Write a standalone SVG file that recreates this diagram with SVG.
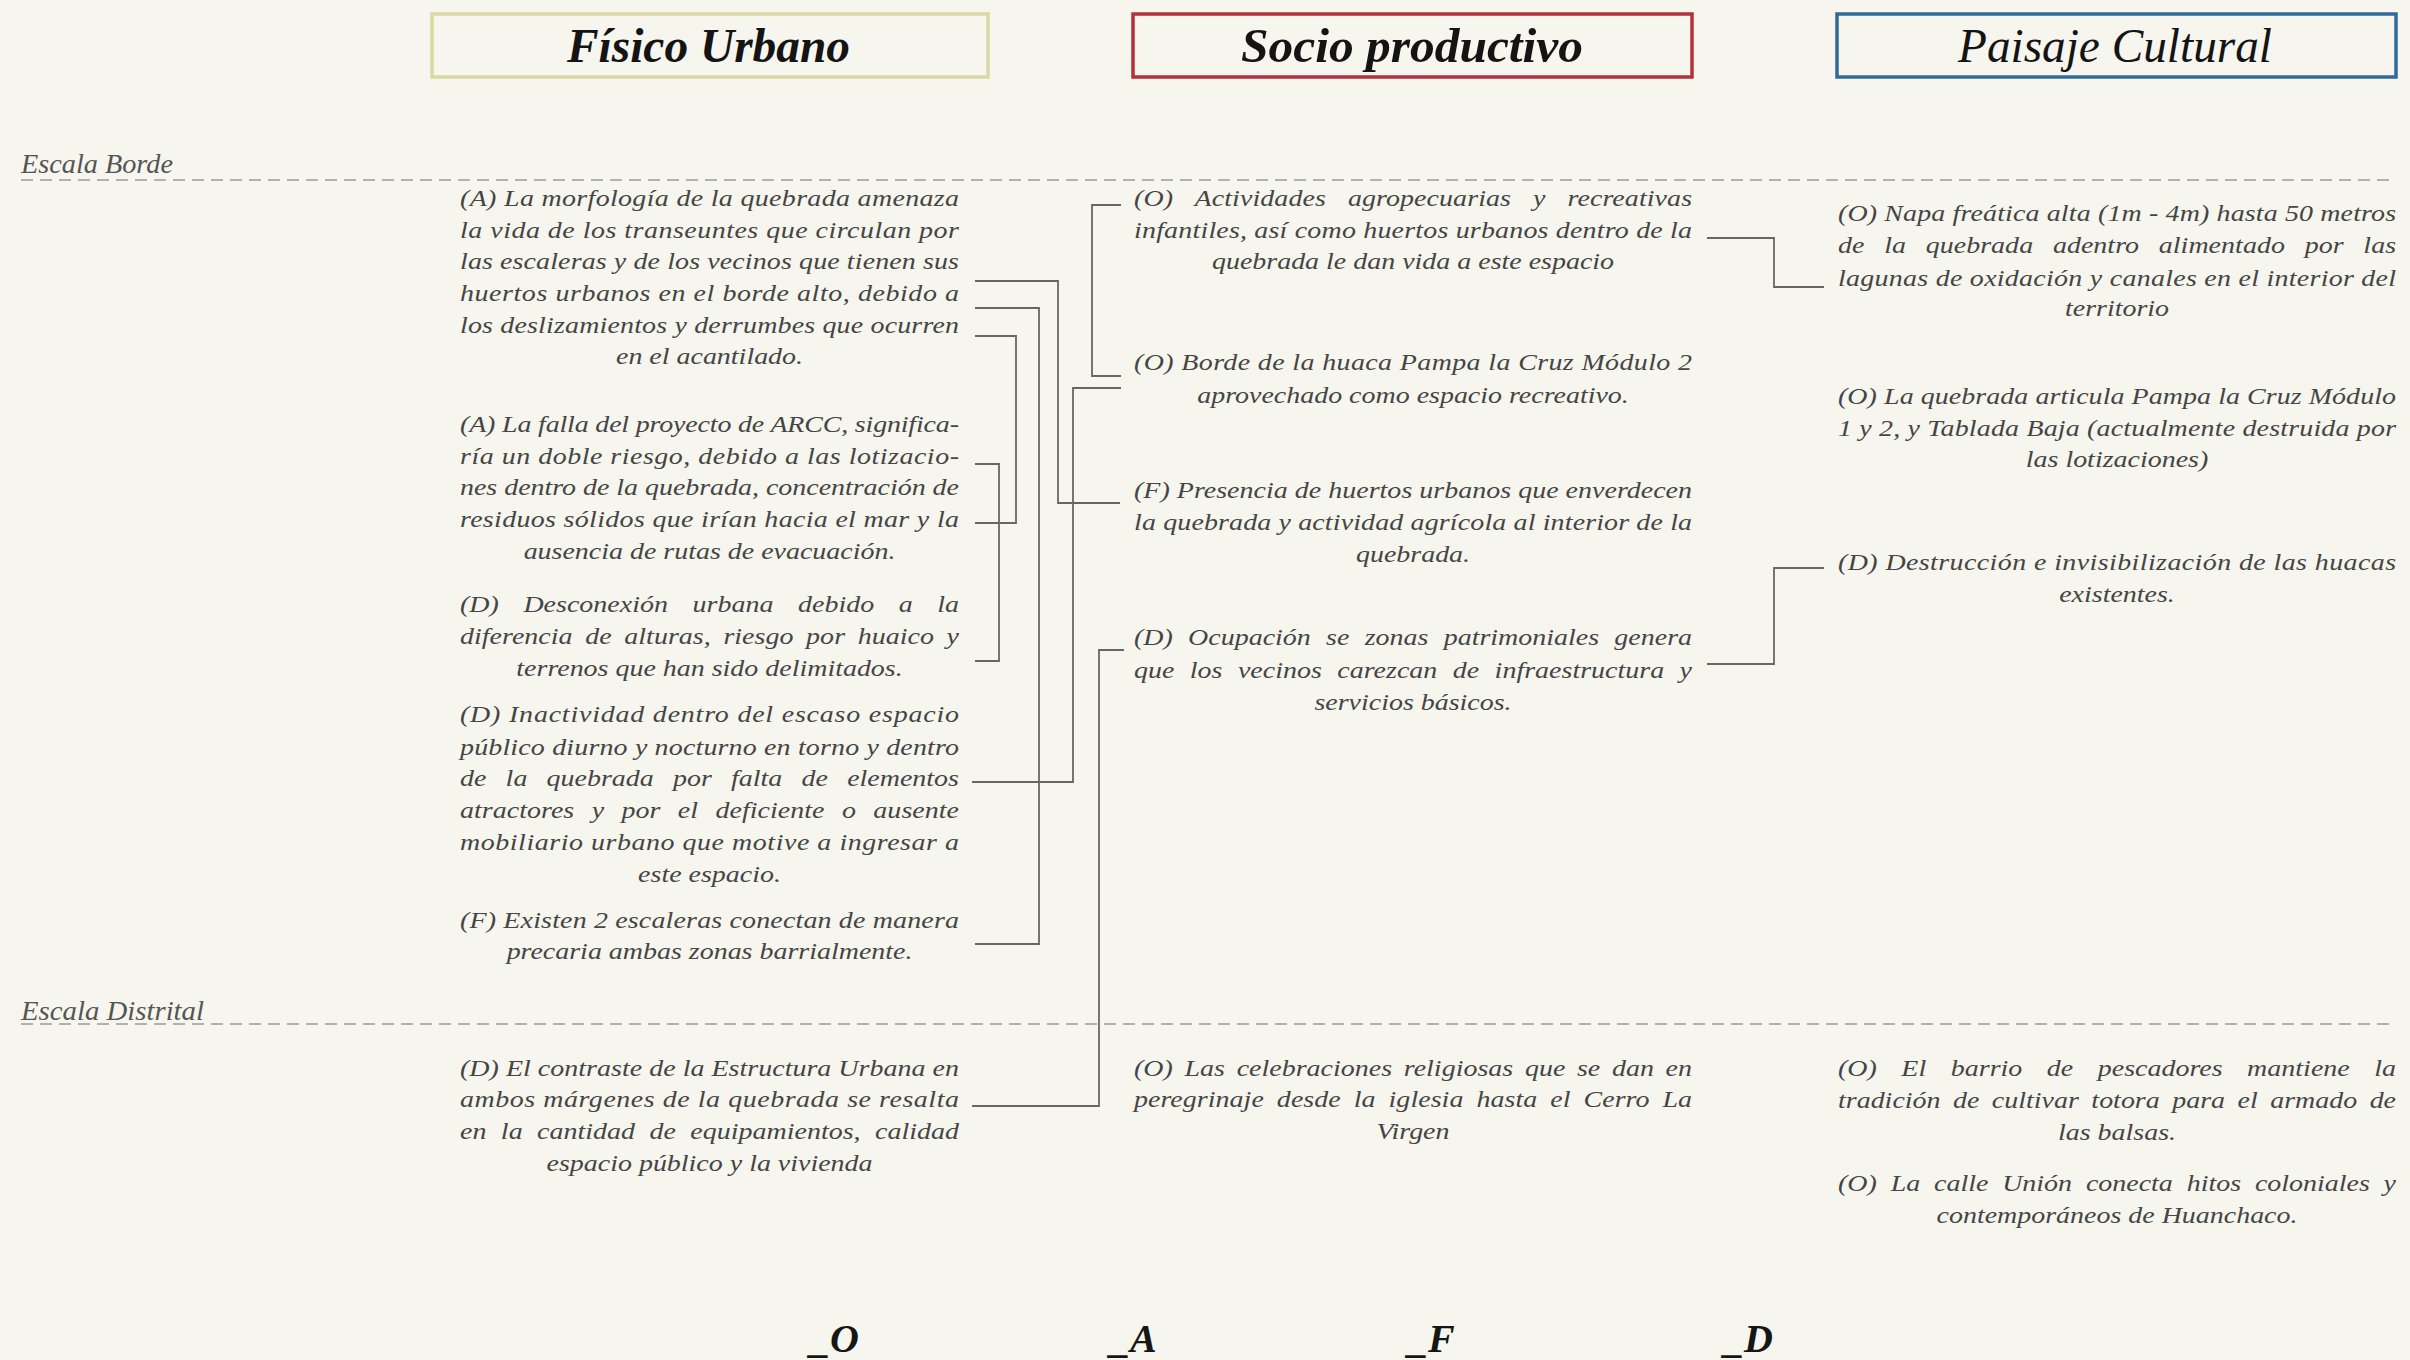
<svg xmlns="http://www.w3.org/2000/svg" width="2410" height="1360" viewBox="0 0 2410 1360">
<defs>
<style>
.bg{fill:#f6f6ee}
.hd{font-family:"Liberation Serif","Times New Roman",serif;font-style:italic;font-weight:bold;font-size:48px;fill:#141414}
.hdr{font-weight:normal}
.box{fill:none;stroke-width:3.5}
.esc{font-family:"Liberation Serif","Times New Roman",serif;font-style:italic;font-size:28px;fill:#555}
.b{font-family:"Liberation Serif","Times New Roman",serif;font-style:italic;font-size:24px;fill:#454545}
.c{text-anchor:middle}
.dash{stroke:#9a9a9a;stroke-width:1.6;stroke-dasharray:12 7;fill:none}
.con{stroke:#666;stroke-width:1.8;fill:none}
.lg{font-family:"Liberation Serif","Times New Roman",serif;font-style:italic;font-weight:bold;font-size:40px;fill:#161616}
</style>
</defs>
<rect class="bg" x="0" y="0" width="2410" height="1360"/>

<g id="header-fisico">
<rect class="box" x="432" y="14" width="556" height="63" stroke="#dad9a4"/>
<text class="hd" x="567" y="62" textLength="283" lengthAdjust="spacingAndGlyphs">Físico Urbano</text>
</g>
<g id="header-socio">
<rect class="box" x="1133" y="14" width="559" height="63" stroke="#b3323a"/>
<text class="hd" x="1241" y="62" textLength="342" lengthAdjust="spacingAndGlyphs">Socio productivo</text>
</g>
<g id="header-paisaje">
<rect class="box" x="1837" y="14" width="559" height="63" stroke="#2f6a98"/>
<text class="hd hdr" x="1958" y="62" textLength="314" lengthAdjust="spacingAndGlyphs">Paisaje Cultural</text>
</g>

<g id="scales">
<text class="esc" x="21" y="173" textLength="152" lengthAdjust="spacingAndGlyphs">Escala Borde</text>
<line class="dash" x1="21" y1="180" x2="2396" y2="180"/>
<text class="esc" x="21" y="1020" textLength="183" lengthAdjust="spacingAndGlyphs">Escala Distrital</text>
<line class="dash" x1="21" y1="1024" x2="2396" y2="1024"/>
</g>

<g id="connectors">
<polyline class="con" points="975,281 1058,281 1058,503 1120,503"/>
<polyline class="con" points="975,308 1039,308 1039,944 975,944"/>
<polyline class="con" points="975,336 1016,336 1016,523 975,523"/>
<polyline class="con" points="975,464 999,464 999,661 975,661"/>
<polyline class="con" points="1121,205 1092,205 1092,376 1121,376"/>
<polyline class="con" points="972,782 1073,782 1073,388 1121,388"/>
<polyline class="con" points="972,1106 1099,1106 1099,650 1124,650"/>
<polyline class="con" points="1707,238 1774,238 1774,287 1824,287"/>
<polyline class="con" points="1707,664 1774,664 1774,568 1824,568"/>
</g>

<!-- Left column: x 460..959 (W=499), scale 1.165 -> 428.3 -->
<g id="n-a1" transform="translate(460 0) scale(1.165 1)">
<text class="b" x="0" y="206" textLength="428.3" lengthAdjust="spacing">(A) La morfología de la quebrada amenaza</text>
<text class="b" x="0" y="238" textLength="428.3" lengthAdjust="spacing">la vida de los transeuntes que circulan por</text>
<text class="b" x="0" y="269" textLength="428.3" lengthAdjust="spacing">las escaleras y de los vecinos que tienen sus</text>
<text class="b" x="0" y="301" textLength="428.3" lengthAdjust="spacing">huertos urbanos en el borde alto, debido a</text>
<text class="b" x="0" y="333" textLength="428.3" lengthAdjust="spacing">los deslizamientos y derrumbes que ocurren</text>
<text class="b c" x="214.2" y="364">en el acantilado.</text>
</g>
<g id="n-a2" transform="translate(460 0) scale(1.165 1)">
<text class="b" x="0" y="432" textLength="428.3" lengthAdjust="spacing">(A) La falla del proyecto de ARCC, significa-</text>
<text class="b" x="0" y="464" textLength="428.3" lengthAdjust="spacing">ría un doble riesgo, debido a las lotizacio-</text>
<text class="b" x="0" y="495" textLength="428.3" lengthAdjust="spacing">nes dentro de la quebrada, concentración de</text>
<text class="b" x="0" y="527" textLength="428.3" lengthAdjust="spacing">residuos sólidos que irían hacia el mar y la</text>
<text class="b c" x="214.2" y="559">ausencia de rutas de evacuación.</text>
</g>
<g id="n-d1" transform="translate(460 0) scale(1.165 1)">
<text class="b" x="0" y="612" textLength="428.3" lengthAdjust="spacing" word-spacing="15">(D) Desconexión urbana debido a la</text>
<text class="b" x="0" y="644" textLength="428.3" lengthAdjust="spacing" word-spacing="4.8">diferencia de alturas, riesgo por huaico y</text>
<text class="b c" x="214.2" y="676">terrenos que han sido delimitados.</text>
</g>
<g id="n-d2" transform="translate(460 0) scale(1.165 1)">
<text class="b" x="0" y="722" textLength="428.3" lengthAdjust="spacing">(D) Inactividad dentro del escaso espacio</text>
<text class="b" x="0" y="755" textLength="428.3" lengthAdjust="spacing">público diurno y nocturno en torno y dentro</text>
<text class="b" x="0" y="786" textLength="428.3" lengthAdjust="spacing" word-spacing="10.5">de la quebrada por falta de elementos</text>
<text class="b" x="0" y="818" textLength="428.3" lengthAdjust="spacing" word-spacing="8.9">atractores y por el deficiente o ausente</text>
<text class="b" x="0" y="850" textLength="428.3" lengthAdjust="spacing">mobiliario urbano que motive a ingresar a</text>
<text class="b c" x="214.2" y="882">este espacio.</text>
</g>
<g id="n-f1" transform="translate(460 0) scale(1.165 1)">
<text class="b" x="0" y="928" textLength="428.3" lengthAdjust="spacing">(F) Existen 2 escaleras conectan de manera</text>
<text class="b c" x="214.2" y="959">precaria ambas zonas barrialmente.</text>
</g>
<g id="n-d3" transform="translate(460 0) scale(1.165 1)">
<text class="b" x="0" y="1076" textLength="428.3" lengthAdjust="spacing">(D) El contraste de la Estructura Urbana en</text>
<text class="b" x="0" y="1107" textLength="428.3" lengthAdjust="spacing">ambos márgenes de la quebrada se resalta</text>
<text class="b" x="0" y="1139" textLength="428.3" lengthAdjust="spacing" word-spacing="6.4">en la cantidad de equipamientos, calidad</text>
<text class="b c" x="214.2" y="1171">espacio público y la vivienda</text>
</g>

<!-- Center column: x 1134..1692 (W=558) -> 479.0 -->
<g id="n-o1" transform="translate(1134 0) scale(1.165 1)">
<text class="b" x="0" y="206" textLength="479" lengthAdjust="spacing" word-spacing="12.8">(O) Actividades agropecuarias y recreativas</text>
<text class="b" x="0" y="238" textLength="479" lengthAdjust="spacing">infantiles, así como huertos urbanos dentro de la</text>
<text class="b c" x="239.5" y="269">quebrada le dan vida a este espacio</text>
</g>
<g id="n-o2" transform="translate(1134 0) scale(1.165 1)">
<text class="b" x="0" y="370" textLength="479" lengthAdjust="spacing">(O) Borde de la huaca Pampa la Cruz Módulo 2</text>
<text class="b c" x="239.5" y="403">aprovechado como espacio recreativo.</text>
</g>
<g id="n-f2" transform="translate(1134 0) scale(1.165 1)">
<text class="b" x="0" y="498" textLength="479" lengthAdjust="spacing">(F) Presencia de huertos urbanos que enverdecen</text>
<text class="b" x="0" y="530" textLength="479" lengthAdjust="spacing">la quebrada y actividad agrícola al interior de la</text>
<text class="b c" x="239.5" y="562">quebrada.</text>
</g>
<g id="n-d4" transform="translate(1134 0) scale(1.165 1)">
<text class="b" x="0" y="645" textLength="479" lengthAdjust="spacing" word-spacing="7.1">(D) Ocupación se zonas patrimoniales genera</text>
<text class="b" x="0" y="678" textLength="479" lengthAdjust="spacing" word-spacing="7.2">que los vecinos carezcan de infraestructura y</text>
<text class="b c" x="239.5" y="710">servicios básicos.</text>
</g>
<g id="n-o3" transform="translate(1134 0) scale(1.165 1)">
<text class="b" x="0" y="1076" textLength="479" lengthAdjust="spacing" word-spacing="4">(O) Las celebraciones religiosas que se dan en</text>
<text class="b" x="0" y="1107" textLength="479" lengthAdjust="spacing" word-spacing="5.1">peregrinaje desde la iglesia hasta el Cerro La</text>
<text class="b c" x="239.5" y="1139">Virgen</text>
</g>

<!-- Right column: x 1838..2396 (W=558) -> 479.0 -->
<g id="n-o4" transform="translate(1838 0) scale(1.165 1)">
<text class="b" x="0" y="221" textLength="479" lengthAdjust="spacing">(O) Napa freática alta (1m - 4m) hasta 50 metros</text>
<text class="b" x="0" y="253" textLength="479" lengthAdjust="spacing" word-spacing="10.9">de la quebrada adentro alimentado por las</text>
<text class="b" x="0" y="286" textLength="479" lengthAdjust="spacing">lagunas de oxidación y canales en el interior del</text>
<text class="b c" x="239.5" y="316">territorio</text>
</g>
<g id="n-o5" transform="translate(1838 0) scale(1.165 1)">
<text class="b" x="0" y="404" textLength="479" lengthAdjust="spacing">(O) La quebrada articula Pampa la Cruz Módulo</text>
<text class="b" x="0" y="436" textLength="479" lengthAdjust="spacing">1 y 2, y Tablada Baja (actualmente destruida por</text>
<text class="b c" x="239.5" y="467">las lotizaciones)</text>
</g>
<g id="n-d5" transform="translate(1838 0) scale(1.165 1)">
<text class="b" x="0" y="570" textLength="479" lengthAdjust="spacing">(D) Destrucción e invisibilización de las huacas</text>
<text class="b c" x="239.5" y="602">existentes.</text>
</g>
<g id="n-o6" transform="translate(1838 0) scale(1.165 1)">
<text class="b" x="0" y="1076" textLength="479" lengthAdjust="spacing" word-spacing="15">(O) El barrio de pescadores mantiene la</text>
<text class="b" x="0" y="1108" textLength="479" lengthAdjust="spacing" word-spacing="4.7">tradición de cultivar totora para el armado de</text>
<text class="b c" x="239.5" y="1140">las balsas.</text>
</g>
<g id="n-o7" transform="translate(1838 0) scale(1.165 1)">
<text class="b" x="0" y="1191" textLength="479" lengthAdjust="spacing" word-spacing="5.9">(O) La calle Unión conecta hitos coloniales y</text>
<text class="b c" x="239.5" y="1223">contemporáneos de Huanchaco.</text>
</g>

<g id="legend">
<text class="lg" x="810" y="1352">_O</text>
<text class="lg" x="1110" y="1352">_A</text>
<text class="lg" x="1408" y="1352">_F</text>
<text class="lg" x="1724" y="1352">_D</text>
</g>
</svg>
